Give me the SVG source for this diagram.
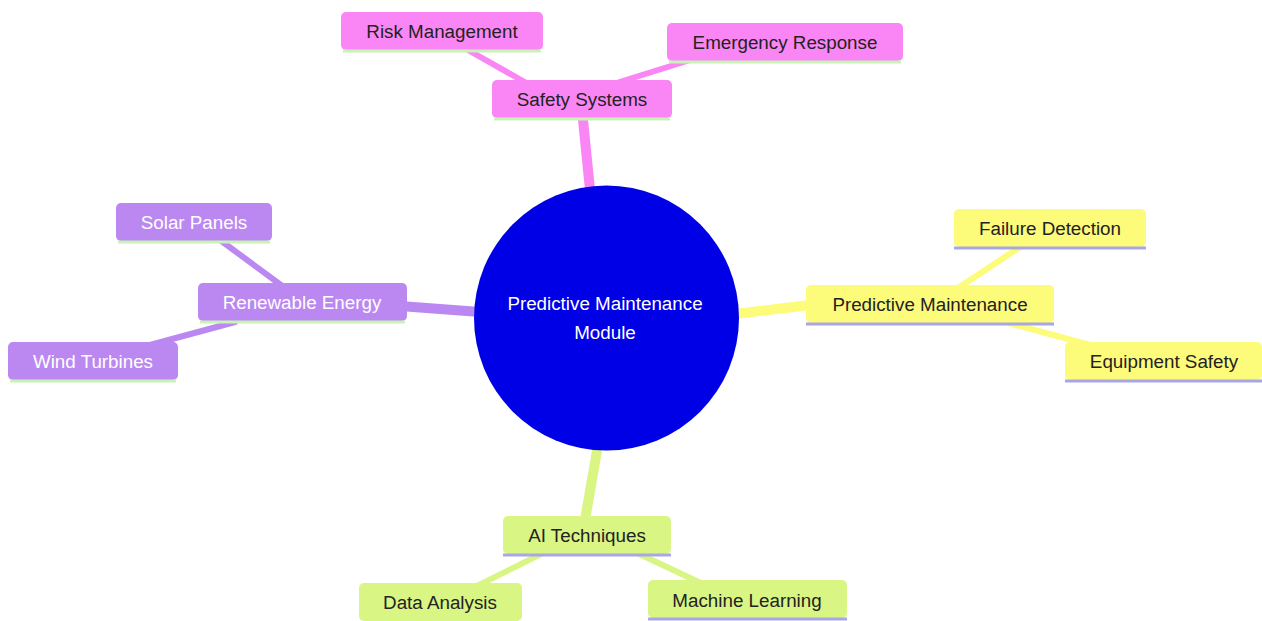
<svg xmlns="http://www.w3.org/2000/svg" width="1262" height="621" viewBox="0 0 1262 621">
<style>
text{font-family:"Liberation Sans",Arial,sans-serif;font-size:18.8px;text-anchor:middle;dominant-baseline:central}
.dark{fill:#222}
.light{fill:#fff}
.pink rect{fill:#fa86f5}
.purple rect{fill:#bb88f2}
.yellow rect{fill:#fdfb7a}
.green rect{fill:#d9f584}
.pink .ul,.purple .ul{stroke:#c9f2b8;stroke-width:3}
.yellow .ul,.green .ul{stroke:#a9a6e6;stroke-width:3}
#edges line{stroke-linecap:round;fill:none}
.e1{stroke-width:10}
.e2{stroke-width:6}
.ep{stroke:#fa86f5}.eu{stroke:#bb88f2}.ey{stroke:#fdfb7a}.eg{stroke:#d9f584}
</style>
<rect width="1262" height="621" fill="#fff"/>
<g id="edges">
<line class="e1 ep" x1="590" y1="190" x2="582" y2="110"/>
<line class="e2 ep" x1="468" y1="50" x2="530" y2="85"/>
<line class="e2 ep" x1="690" y1="60" x2="610" y2="85"/>
<line class="e1 eu" x1="480" y1="312" x2="400" y2="306"/>
<line class="e2 eu" x1="220" y1="240" x2="285" y2="288"/>
<line class="e2 eu" x1="150" y1="345" x2="235" y2="322"/>
<line class="e1 ey" x1="735" y1="314" x2="810" y2="305"/>
<line class="e2 ey" x1="1020" y1="247" x2="955" y2="290"/>
<line class="e2 ey" x1="1005" y1="322" x2="1090" y2="345"/>
<line class="e1 eg" x1="598" y1="445" x2="585" y2="520"/>
<line class="e2 eg" x1="545" y1="552" x2="475" y2="587"/>
<line class="e2 eg" x1="635" y1="552" x2="705" y2="585"/>
</g>
<g id="root">
<circle cx="606.5" cy="318" r="132.5" fill="#0000e6"/>
<text class="light" x="605" y="303">Predictive Maintenance</text>
<text class="light" x="605" y="332">Module</text>
</g>
<g id="safety" class="pink"><rect x="492" y="80" width="180" height="38" rx="5"/><line class="ul" x1="494" y1="119" x2="670" y2="119"/><text class="dark" x="582" y="99">Safety Systems</text></g>
<g id="risk" class="pink"><rect x="341" y="12" width="202" height="38" rx="5"/><line class="ul" x1="343" y1="51" x2="541" y2="51"/><text class="dark" x="442" y="31">Risk Management</text></g>
<g id="emergency" class="pink"><rect x="667" y="23" width="236" height="38" rx="5"/><line class="ul" x1="669" y1="62" x2="901" y2="62"/><text class="dark" x="785" y="42">Emergency Response</text></g>
<g id="renewable" class="purple"><rect x="198" y="283" width="209" height="38" rx="5"/><line class="ul" x1="200" y1="322" x2="405" y2="322"/><text class="light" x="302" y="302">Renewable Energy</text></g>
<g id="solar" class="purple"><rect x="116" y="203" width="156" height="38" rx="5"/><line class="ul" x1="118" y1="242" x2="270" y2="242"/><text class="light" x="194" y="222">Solar Panels</text></g>
<g id="wind" class="purple"><rect x="8" y="342" width="170" height="38" rx="5"/><line class="ul" x1="10" y1="381" x2="176" y2="381"/><text class="light" x="93" y="361">Wind Turbines</text></g>
<g id="pm" class="yellow"><rect x="806" y="285" width="248" height="38" rx="5"/><line class="ul" x1="806" y1="324" x2="1054" y2="324"/><text class="dark" x="930" y="304">Predictive Maintenance</text></g>
<g id="failure" class="yellow"><rect x="954" y="209" width="192" height="38" rx="5"/><line class="ul" x1="954" y1="248" x2="1146" y2="248"/><text class="dark" x="1050" y="228">Failure Detection</text></g>
<g id="equipment" class="yellow"><rect x="1065" y="342" width="197" height="38" rx="5"/><line class="ul" x1="1065" y1="381" x2="1262" y2="381"/><text class="dark" x="1164" y="361">Equipment Safety</text></g>
<g id="ai" class="green"><rect x="503" y="516" width="168" height="38" rx="5"/><line class="ul" x1="503" y1="555" x2="671" y2="555"/><text class="dark" x="587" y="535">AI Techniques</text></g>
<g id="data" class="green"><rect x="359" y="583" width="163" height="38" rx="5"/><text class="dark" x="440" y="602">Data Analysis</text></g>
<g id="ml" class="green"><rect x="648" y="580" width="199" height="38" rx="5"/><line class="ul" x1="648" y1="619" x2="847" y2="619"/><text class="dark" x="747" y="600">Machine Learning</text></g>
</svg>
